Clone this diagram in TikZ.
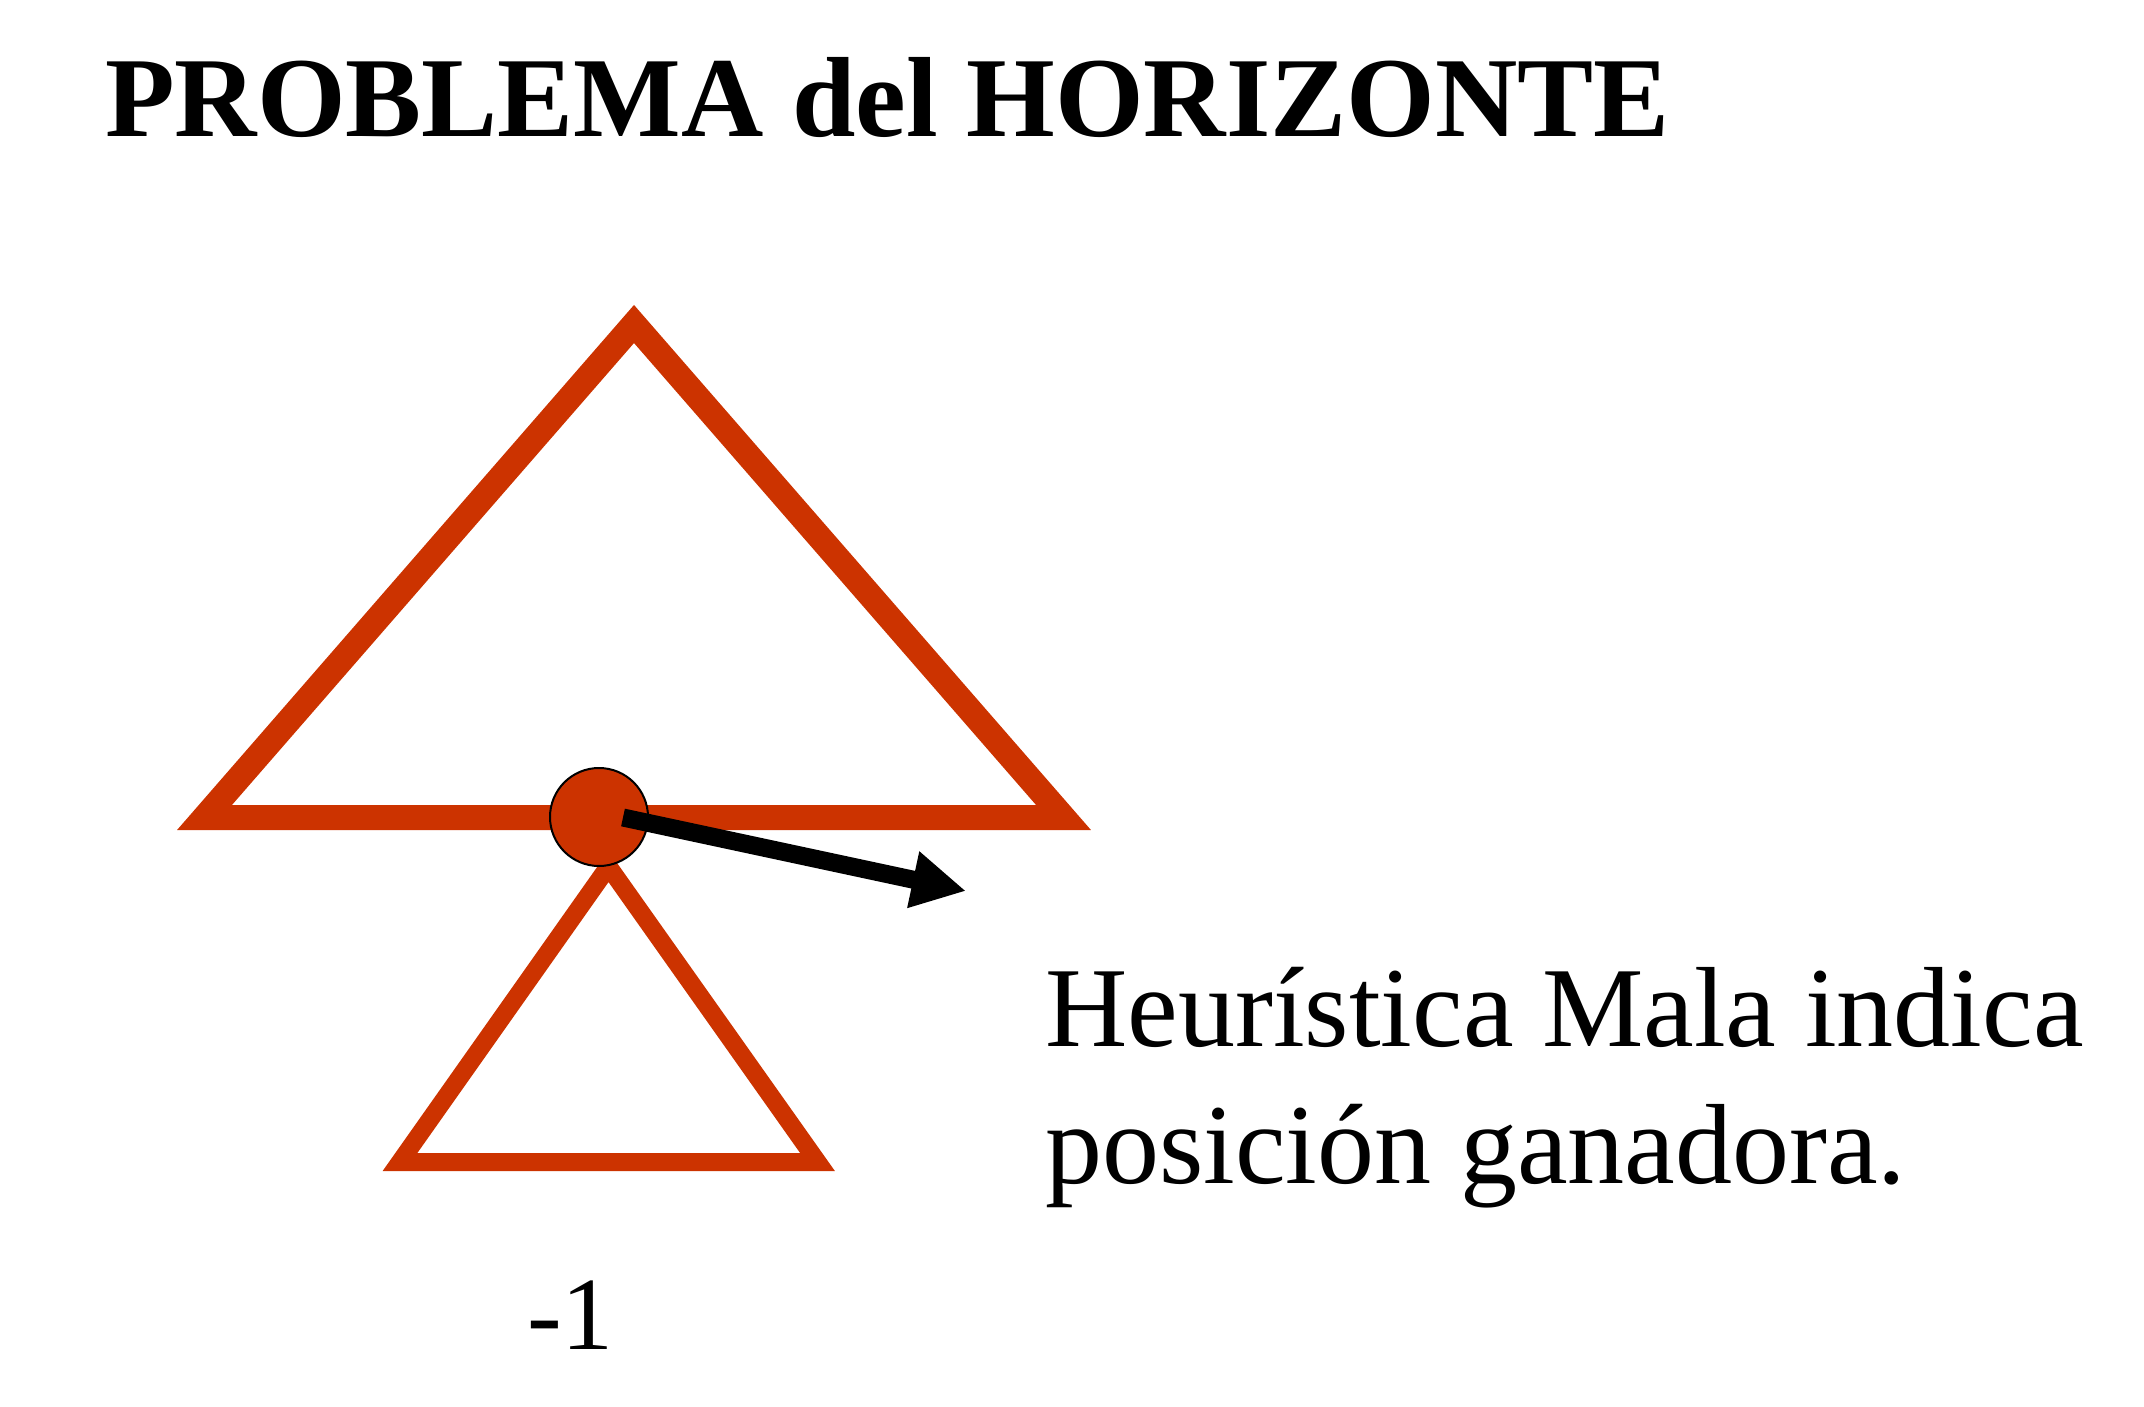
\documentclass[tikz,border=0pt]{standalone}
\usepackage{fontspec}
\setmainfont{Liberation Serif}
\usetikzlibrary{arrows.meta}
\definecolor{tred}{RGB}{204,51,0}
\tikzset{
  tri/.style={draw=tred, line join=miter},
  txt/.style={anchor=base west, inner sep=0pt, font=\fontsize{114}{137}\selectfont},
  posdot/.style={circle, fill=tred, draw=black, line width=2pt, minimum size=98pt, inner sep=0pt},
  pointer/.style={line width=18pt, draw=black, -{Triangle[length=54pt,width=54pt]}}
}
\begin{document}
\begin{tikzpicture}[x=1pt,y=-1pt]
\useasboundingbox (0,0) rectangle (2144,1407);
% title
\node[txt, font=\fontsize{114}{137}\selectfont\bfseries] (title) at (105,137) {PROBLEMA del HORIZONTE};
% big triangle
\coordinate (bA) at (634,324);
\coordinate (bL) at (204.5,817.5);
\coordinate (bR) at (1063.5,817.5);
\draw[tri, line width=25pt] (bA) -- (bL) -- (bR) -- cycle;
% small triangle
\coordinate (sA) at (608.5,866.5);
\coordinate (sL) at (400,1162);
\coordinate (sR) at (817.5,1162);
\draw[tri, line width=18pt] (sA) -- (sL) -- (sR) -- cycle;
% position node
\node[posdot] (c) at (599,817) {};
% arrow
\coordinate (astart) at (623,817.5);
\coordinate (atip) at (966,891);
\draw[pointer] (astart) -- (atip);
% texts
\node[txt] (h1) at (1045,1046) {Heurística Mala indica};
\node[txt] (h2) at (1045,1183) {posición ganadora.};
\node[txt, font=\fontsize{104}{125}\selectfont] (val) at (527,1349) {-1};
\end{tikzpicture}
\end{document}
